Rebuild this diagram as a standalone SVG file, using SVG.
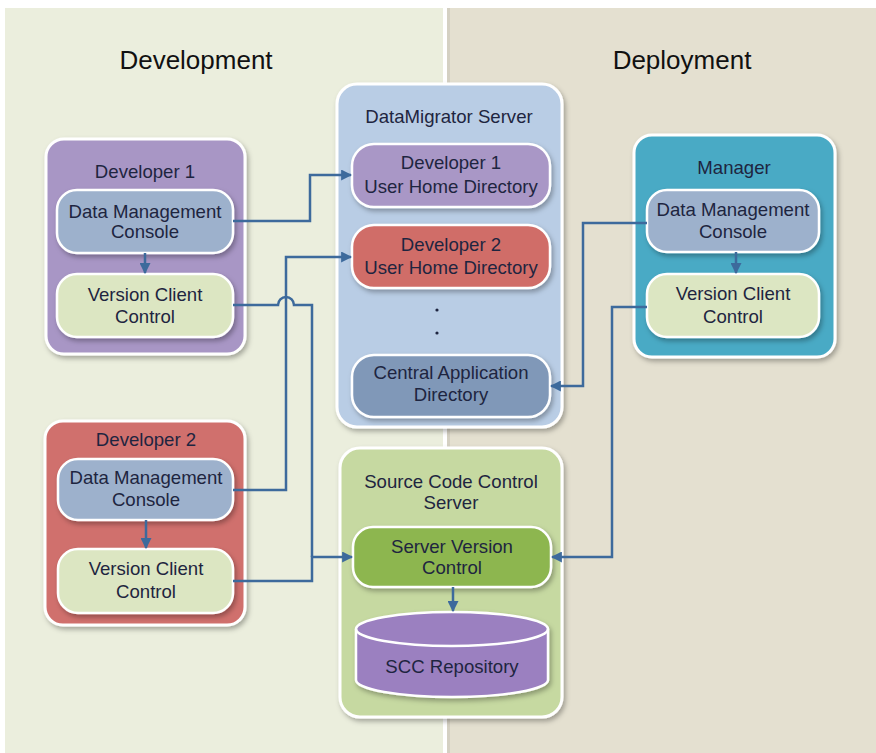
<svg xmlns="http://www.w3.org/2000/svg" width="876" height="753" viewBox="0 0 876 753">
<defs>
<filter id="sh" x="-20%" y="-20%" width="140%" height="140%">
<feDropShadow dx="2" dy="3" stdDeviation="2.5" flood-color="#000" flood-opacity="0.3"/>
</filter>
<marker id="ah" viewBox="0 0 10 10" refX="9" refY="5" markerWidth="11" markerHeight="11" markerUnits="userSpaceOnUse" orient="auto">
<path d="M0,0 L10,5 L0,10 Z" fill="#3D6A9C"/>
</marker>
<style>
text{font-family:"Liberation Sans",Arial,sans-serif;font-size:18.6px;text-anchor:middle;fill:#1E2540}
.title{font-size:26px;fill:#111}
.outer{stroke:#fff;stroke-width:3;filter:url(#sh)}
.inner{stroke:#fff;stroke-width:2.5;filter:url(#sh)}
.conn{fill:none;stroke:#3D6A9C;stroke-width:2.5}
.arr{marker-end:url(#ah)}
</style>
</defs>
<rect x="0" y="0" width="876" height="753" fill="#fff"/>
<rect x="5" y="8" width="438" height="745" fill="#EBEEDD"/>
<rect x="447" y="8" width="429" height="745" fill="#E4E0D0"/>
<rect x="447" y="8" width="3" height="745" fill="#D4D0C2"/>
<text class="title" x="196" y="69">Development</text>
<text class="title" x="682" y="69">Deployment</text>

<g id="developer1">
<rect class="outer" x="46" y="139" width="199" height="215" rx="18" fill="#A896C5"/>
<text x="145" y="178" fill="#2A2445">Developer 1</text>
<g id="dev1-dmc">
<rect class="inner" x="57" y="190" width="176" height="63" rx="20" fill="#9DB1CC"/>
<text x="145" y="218">Data Management</text>
<text x="145" y="238">Console</text>
</g>
<g id="dev1-vcc">
<rect class="inner" x="57" y="274" width="176" height="63" rx="20" fill="#DCE6C2"/>
<text x="145" y="301">Version Client</text>
<text x="145" y="323">Control</text>
</g>
</g>

<g id="developer2">
<rect class="outer" x="45" y="421" width="200" height="204" rx="18" fill="#D0706D"/>
<text x="146" y="446" fill="#4A1818">Developer 2</text>
<g id="dev2-dmc">
<rect class="inner" x="58" y="459" width="175" height="61" rx="20" fill="#9DB1CC"/>
<text x="146" y="484">Data Management</text>
<text x="146" y="506">Console</text>
</g>
<g id="dev2-vcc">
<rect class="inner" x="58" y="549" width="175" height="64" rx="20" fill="#DCE6C2"/>
<text x="146" y="575">Version Client</text>
<text x="146" y="598">Control</text>
</g>
</g>

<g id="datamigrator">
<rect class="outer" x="337" y="84" width="225" height="343" rx="20" fill="#B9CDE5"/>
<text x="449" y="123">DataMigrator Server</text>
<g id="dev1-uhd">
<rect class="inner" x="352" y="144" width="198" height="63" rx="22" fill="#A997C6"/>
<text x="451" y="169">Developer 1</text>
<text x="451" y="193">User Home Directory</text>
</g>
<g id="dev2-uhd">
<rect class="inner" x="352" y="225" width="198" height="63" rx="22" fill="#D06D67"/>
<text x="451" y="251" fill="#3A1515">Developer 2</text>
<text x="451" y="274" fill="#3A1515">User Home Directory</text>
</g>
<circle cx="437" cy="310" r="1.6" fill="#1E2540"/>
<circle cx="437" cy="333" r="1.6" fill="#1E2540"/>
<g id="central-app">
<rect class="inner" x="352" y="355" width="198" height="62" rx="22" fill="#8098B8"/>
<text x="451" y="379">Central Application</text>
<text x="451" y="401">Directory</text>
</g>
</g>

<g id="manager">
<rect class="outer" x="634" y="135" width="201" height="222" rx="18" fill="#4AAAC5"/>
<text x="734" y="174">Manager</text>
<g id="mgr-dmc">
<rect class="inner" x="647" y="190" width="172" height="62" rx="20" fill="#9DB1CC"/>
<text x="733" y="216">Data Management</text>
<text x="733" y="238">Console</text>
</g>
<g id="mgr-vcc">
<rect class="inner" x="647" y="274" width="172" height="63" rx="20" fill="#DCE6C2"/>
<text x="733" y="300">Version Client</text>
<text x="733" y="323">Control</text>
</g>
</g>

<g id="scc-server">
<rect class="outer" x="340" y="448" width="222" height="269" rx="20" fill="#C6D9A1"/>
<text x="451" y="488" fill="#222">Source Code Control</text>
<text x="451" y="509" fill="#222">Server</text>
<g id="server-vc">
<rect class="inner" x="353" y="527" width="198" height="60" rx="20" fill="#8DB650"/>
<text x="452" y="553" fill="#1E2A18">Server Version</text>
<text x="452" y="574" fill="#1E2A18">Control</text>
</g>
<g id="scc-repo">
<path class="inner" d="M356,629 A96,17 0 0 1 548,629 V680 A96,17 0 0 1 356,680 Z" fill="#9B80C0"/>
<path d="M356,629 A96,17 0 0 0 548,629" fill="none" stroke="#fff" stroke-width="2.5"/>
<text x="452" y="673">SCC Repository</text>
</g>
</g>

<g id="connectors">
<path class="conn arr" d="M145,253 V273"/>
<path class="conn arr" d="M146,520 V548"/>
<path class="conn arr" d="M736,252 V273"/>
<path class="conn arr" d="M453,587 V611"/>
<path class="conn arr" d="M233,221 H310 V175 H351"/>
<path class="conn arr" d="M233,490 H286 V257 H351"/>
<path class="conn" d="M233,305 H278 A8,8 0 0 1 294,305 H312 V557"/>
<path class="conn arr" d="M233,581 H312 V557 H352"/>
<path class="conn arr" d="M647,223 H583 V386 H551"/>
<path class="conn arr" d="M647,307 H612 V557 H552"/>
</g>
</svg>
